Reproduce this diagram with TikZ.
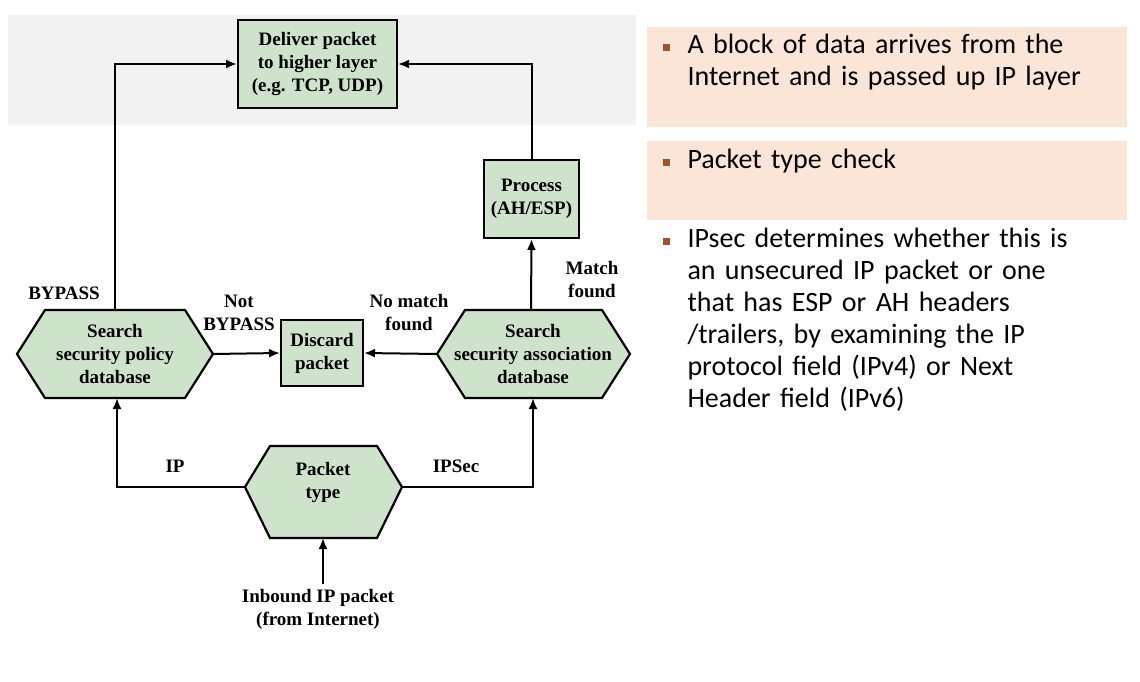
\documentclass[tikz,border=0pt]{standalone}
\usepackage{fontspec}
\setmainfont{Liberation Serif}
\newfontfamily\bodyf{Carlito}
\usetikzlibrary{arrows.meta}
\definecolor{gfill}{HTML}{CFE3CC}
\definecolor{band}{HTML}{F2F2F2}
\definecolor{peach}{HTML}{FBE5D6}
\definecolor{bul}{HTML}{A0522D}
\tikzset{
  box/.style={draw, line width=2pt, fill=gfill, align=center, font=\bfseries\fontsize{19}{23}\selectfont, inner sep=0pt},
  lab/.style={align=center, font=\bfseries\fontsize{19}{23}\selectfont},
  hexs/.style={draw, line width=2.2pt, fill=gfill, line join=miter},
  txt/.style={align=center, font=\bfseries\fontsize{19}{23}\selectfont},
  arr/.style={-{Latex[length=11pt,width=9pt]}, line width=2pt},
  note/.style={fill=peach, minimum width=480pt, anchor=north west, inner sep=0pt},
  btext/.style={anchor=north west, align=left, text width=440pt, font=\bodyf\fontsize{28}{32}\selectfont},
}
\begin{document}
\begin{tikzpicture}[x=1pt,y=-1pt]
\useasboundingbox (0,0) rectangle (1140,682);
\fill[band] (8,15) rectangle (636,125);
% nodes
\node[box, minimum width=159pt, minimum height=88pt] (deliver) at (317.5,64) {Deliver packet\\to higher layer\\(e.g. TCP, UDP)};
\node[box, minimum width=95pt, minimum height=78pt] (proc) at (531.5,199) {Process\\(AH/ESP)};
\node[box, minimum width=82pt, minimum height=66pt] (disc) at (322,353) {Discard\\packet};
% hexagons
\filldraw[hexs] (17,354) -- (45,310) -- (185,310) -- (213,354) -- (185,398) -- (45,398) -- cycle;
\node[txt] (spd) at (115,354) {Search\\security policy\\database};
\coordinate (spdT) at (115,310); \coordinate (spdB) at (117,398); \coordinate (spdR) at (213,354);
\filldraw[hexs] (437,354) -- (465,310) -- (602,310) -- (630,354) -- (602,398) -- (465,398) -- cycle;
\node[txt] (sad) at (533,354) {Search\\security association\\database};
\coordinate (sadT) at (531,310); \coordinate (sadB) at (533,398); \coordinate (sadL) at (437,354);
\filldraw[hexs] (245,487) -- (270,446) -- (377,446) -- (402,487) -- (377,538) -- (270,538) -- cycle;
\node[txt] (ptype) at (323,482) {Packet\\type};
\coordinate (ptL) at (245,487); \coordinate (ptR) at (402,487); \coordinate (ptB) at (323,538);
\node[txt] (inb) at (318,609) {Inbound IP packet\\(from Internet)};
\coordinate (inbT) at (323,584);
% connectors
\draw[arr] (spdT) |- (deliver.west);
\draw[arr] (proc.north) |- (deliver.east);
\draw[arr] (sadT) -- (proc.south);
\draw[arr] (sadL) -- (disc.east);
\draw[arr] (spdR) -- (disc.west);
\draw[arr] (ptL) -| (spdB);
\draw[arr] (ptR) -| (sadB);
\draw[arr] (inbT) -- (ptB);
% labels
\node[lab] (l1) at (64,293) {BYPASS};
\node[lab] (l2) at (239,313) {Not\\BYPASS};
\node[lab] (l3) at (409,313) {No match\\found};
\node[lab] (l4) at (592,280) {Match\\found};
\node[lab] (l5) at (175,466) {IP};
\node[lab] (l6) at (456,466) {IPSec};
% right panel
\node[note, minimum height=100pt] (n1) at (647,27) {};
\node[note, minimum height=79pt] (n2) at (647,141) {};
\fill[bul] (663,44) rectangle +(7,7);
\node[btext] (t1) at (684,31) {A block of data arrives from the\\Internet and is passed up IP layer};
\fill[bul] (663,159) rectangle +(7,7);
\node[btext] (t2) at (684,146) {Packet type check};
\fill[bul] (663,238) rectangle +(7,7);
\node[btext] (t3) at (684,225) {IPsec determines whether this is\\an unsecured IP packet or one\\that has ESP or AH headers\\/trailers, by examining the IP\\protocol field (IPv4) or Next\\Header field (IPv6)};
\end{tikzpicture}
\end{document}
